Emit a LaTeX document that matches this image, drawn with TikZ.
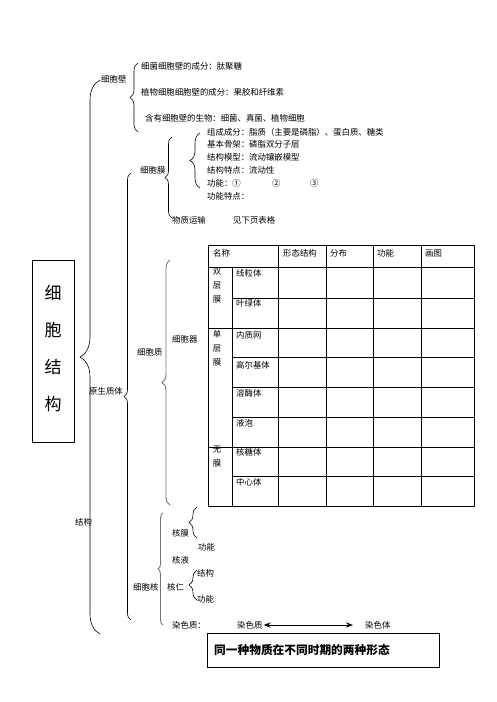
\documentclass[tikz,border=0pt]{standalone}
\usepackage{fontspec}
\setmainfont{Noto Sans CJK SC}
\usetikzlibrary{decorations.pathreplacing, arrows.meta}

\begin{document}
\begin{tikzpicture}[
  x=1pt, y=-1pt,
  every node/.style={
    anchor=west, inner sep=0pt, font=\fontsize{8.4}{10}\selectfont
  },
  brc/.style={
    decorate, decoration={brace, amplitude=#1}, line width=0.6pt
  },
  greybrc/.style={black!55, line width=0.9pt},
  grid/.style={line width=0.9pt},
  stack/.style={
    anchor=north, align=center, font=\fontsize{8.4}{14}\selectfont
  }
  ]
  \useasboundingbox (0,0) rectangle (496,702);
  % title
  \draw[grid] (32,260) rectangle (74,442);
  \foreach \c [count=\i] in {细,胞,结,构}
    \node[anchor=center, font=\fontsize{17}{17}\selectfont] (title\i) at (53,256+37*\i) {\c};
  % braces
  \draw[brc=20] (100,634) -- (100,80);
  \draw[brc=8] (138,132) -- (138,63);
  \draw[brc=7] (131,620) -- (131,173);
  \draw[brc=7] (172,218) -- (172,137);
  \draw[brc=10] (200,188) -- (200,133);
  \draw[brc=8, greybrc] (170,505) -- (170,260);
  \draw[brc=5, greybrc] (163,625) -- (163,513);
  \draw[brc=8] (197,538) -- (197,507);
  \draw[brc=8] (197,600) -- (197,570);
  % cell wall
  \node (wall) at (101,79) {细胞壁};
  \node (wall1) at (141,66) {细菌细胞壁的成分：肽聚糖};
  \node (wall2) at (141,92) {植物细胞细胞壁的成分：果胶和纤维素};
  \node (wall3) at (145,118) {含有细胞壁的生物：细菌、真菌、植物细胞};
  % protoplast
  \node (proto) at (89,391) {原生质体};
  \node (struct) at (75,522) {结构};
  % membrane
  \node (memb) at (140,170) {细胞膜};
  \node (memb1) at (207,132) {组成成分：脂质（主要是磷脂）、蛋白质、糖类};
  \node (memb2) at (207,144) {基本骨架：磷脂双分子层};
  \node (memb3) at (207,157) {结构模型：流动镶嵌模型};
  \node (memb4) at (207,170) {结构特点：流动性};
  \node (memb5) at (207,183) {功能：①};
  \node (memb5b) at (272,183) {②};
  \node (memb5c) at (310,183) {③};
  \node (memb6) at (207,196) {功能特点：};
  \node (trans) at (172,220) {物质运输};
  \node (transb) at (233,220) {见下页表格};
  % cytoplasm
  \node (cyto) at (137,352) {细胞质};
  \node (organ) at (172,339) {细胞器};
  % table
  \draw[grid] (208,245) rectangle (474,506);
  \draw[grid] (208,267) -- (474,267);
  \foreach \x in {278,326,373,421}
    \draw[grid] (\x,245) -- (\x,506);
  \draw[grid] (232,267) -- (232,506);
  \foreach \y in {298,357,387,417,476}
    \draw[grid] (232,\y) -- (474,\y);
  \foreach \y in {328,447}
    \draw[grid] (208,\y) -- (474,\y);
  \foreach \x/\t [count=\i] in {213/名称, 283/形态结构, 330/分布, 377/功能, 425/画图}
    \node (head\i) at (\x,253) {\t};
  \foreach \y/\t [count=\i] in {273/线粒体, 303/叶绿体, 335/内质网, 365/高尔基体,
      393/溶酶体, 423/液泡, 452/核糖体, 482/中心体}
    \node (row\i) at (236,\y) {\t};
  \node[stack] (grp1) at (217,268) {双\\层\\膜};
  \node[stack] (grp2) at (217,330) {单\\层\\膜};
  \node[stack] (grp3) at (217,446) {无\\膜};
  % nucleus
  \node (nuc) at (133,587) {细胞核};
  \node (nmem) at (172,533) {核膜};
  \node (nmem1) at (198,547) {功能};
  \node (nsap) at (172,560) {核液};
  \node (nlet) at (167,587) {核仁};
  \node (nlet1) at (197,573) {结构};
  \node (nlet2) at (197,599) {功能};
  \node (chro) at (172,625) {染色质：};
  \node (chro1) at (237,625) {染色质};
  \node (chro2) at (365,625) {染色体};
  \draw[{Stealth[length=7pt]}-{Stealth[length=7pt]}, line width=1pt,
    shorten <=1pt, shorten >=12pt] (chro1) -- (chro2);
  \draw[grid] (207,633) rectangle (439,667);
  \node[font=\bfseries\fontsize{11.7}{12}\selectfont] (note) at (214,650)
    {同一种物质在不同时期的两种形态};
\end{tikzpicture}
\end{document}
